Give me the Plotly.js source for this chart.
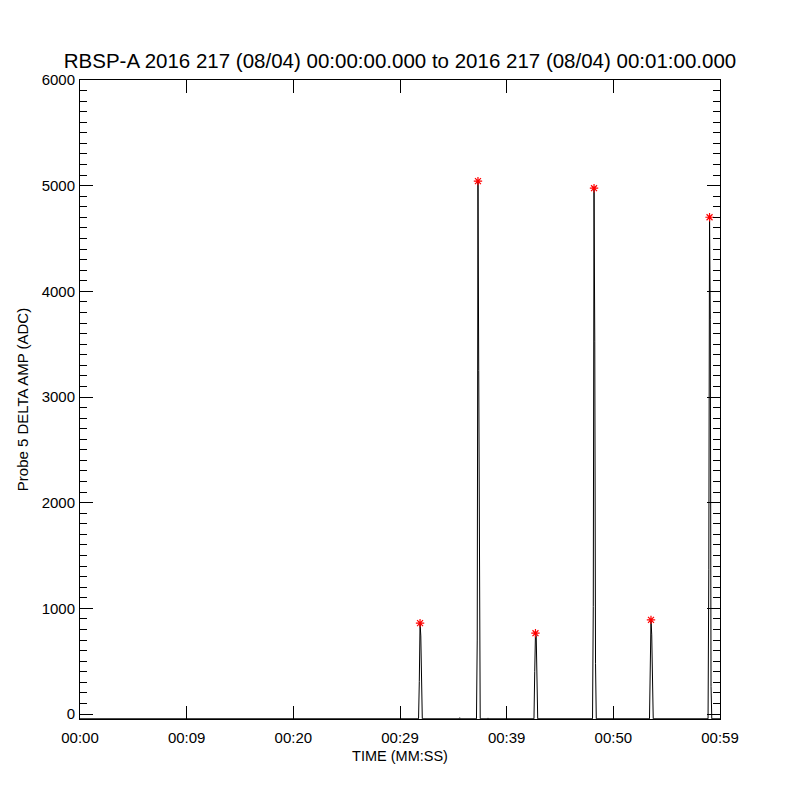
<!DOCTYPE html>
<html>
<head>
<meta charset="utf-8">
<script src="https://cdn.plot.ly/plotly-3.0.1.min.js"></script>
<style>html,body{margin:0;padding:0;background:#fff;}</style>
</head>
<body>
<div id="chart" style="width:800px;height:800px;"></div>
<script>
// Time in seconds since 00:00:00
const times = [
  0,
  31.74, 31.81, 31.88, 31.95, 32.02, 32.09,
  35.55, 35.60, 35.65,
  37.17, 37.24, 37.31, 37.38, 37.45, 37.52,
  38.20, 38.25, 38.30,
  42.56, 42.63, 42.70, 42.77, 42.84, 42.91,
  48.05, 48.12, 48.19, 48.26, 48.33, 48.40,
  53.39, 53.46, 53.53, 53.60, 53.67, 53.74,
  58.88, 58.95, 59.02, 59.09, 59.16, 59.23,
  60
];
// Probe 5 delta amplitude (ADC)
const amplitude = [
  -45,
  -45, 306, 860, 739, 300, -45,
  -45, -35, -45,
  -45, 700, 5043, 3250, 780, -45,
  -45, -37, -45,
  -45, 401, 765, 740, 401, -45,
  -45, 1017, 4976, 3529, 480, -45,
  -45, 480, 891, 749, 470, -45,
  -45, 1371, 4701, 3735, 259, -45,
  -45
];
const peakTimes = [31.88, 37.31, 42.70, 48.19, 53.53, 59.02];
const peakValues = [860, 5043, 765, 4976, 891, 4701];

const xTickVals = [0, 10, 20, 30, 40, 50, 60];
const xTickText = ["00:00", "00:09", "00:20", "00:29", "00:39", "00:50", "00:59"];
const yTickVals = [0, 1000, 2000, 3000, 4000, 5000, 6000];

const FONT = "Liberation Sans, Arial, sans-serif";

const traces = [
  {
    x: times, y: amplitude, type: "scatter", mode: "lines",
    line: {color: "#000000", width: 1},
    hoverinfo: "skip", showlegend: false
  },
  {
    x: peakTimes, y: peakValues, type: "scatter", mode: "markers",
    marker: {symbol: "asterisk-open", size: 7, color: "#ff0000", line: {color: "#ff0000", width: 1.2}},
    showlegend: false
  }
];

const layout = {
  width: 800, height: 800,
  margin: {l: 80, r: 80, t: 80, b: 81, pad: 0},
  paper_bgcolor: "#ffffff", plot_bgcolor: "#ffffff",
  font: {family: FONT, color: "#000000"},
  title: {
    text: "RBSP-A 2016 217 (08/04) 00:00:00.000 to 2016 217 (08/04) 00:01:00.000",
    font: {family: FONT, size: 20.5, color: "#000000"},
    x: 0.5, xanchor: "center", y: 1 - 61/800, yanchor: "middle"
  },
  xaxis: {
    range: [0, 60], tickmode: "array", tickvals: xTickVals, ticktext: xTickText,
    ticks: "inside", ticklen: 13, tickwidth: 1, tickcolor: "#000",
    showline: true, linecolor: "#000", linewidth: 1, mirror: "ticks",
    showgrid: false, zeroline: false,
    tickfont: {family: FONT, size: 15, color: "#000"},
    ticklabelstandoff: 5,
    title: {text: "TIME (MM:SS)", font: {family: FONT, size: 14.5, color: "#000"}, standoff: 5},
    fixedrange: true
  },
  yaxis: {
    range: [-47, 6000], tickmode: "array", tickvals: yTickVals,
    ticks: "inside", ticklen: 13, tickwidth: 1, tickcolor: "#000",
    minor: {ticks: "inside", ticklen: 7, tickwidth: 1, tickcolor: "#000", dtick: 100, tick0: 0, showgrid: false},
    showline: true, linecolor: "#000", linewidth: 1, mirror: "ticks",
    showgrid: false, zeroline: false,
    tickfont: {family: FONT, size: 15, color: "#000"},
    ticklabelstandoff: 1,
    title: {text: "Probe 5 DELTA AMP (ADC)", font: {family: FONT, size: 15, color: "#000"}, standoff: 9},
    fixedrange: true
  }
};

Plotly.newPlot("chart", traces, layout, {displayModeBar: false, staticPlot: true});
</script>
</body>
</html>
